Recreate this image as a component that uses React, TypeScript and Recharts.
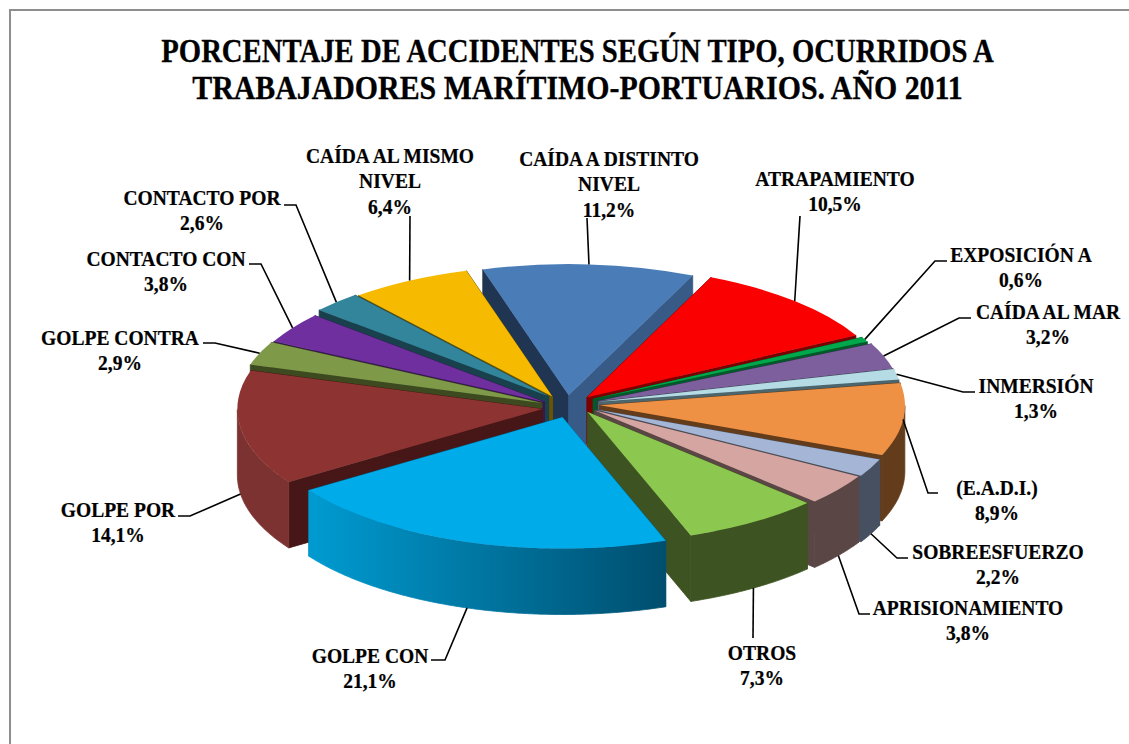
import { PieChart, Pie } from "recharts";

const categories = [
  "ATRAPAMIENTO", "EXPOSICIÓN A", "CAÍDA AL MAR", "INMERSIÓN", "(E.A.D.I.)",
  "SOBREESFUERZO", "APRISIONAMIENTO", "OTROS", "GOLPE CON", "GOLPE POR",
  "GOLPE CONTRA", "CONTACTO CON", "CONTACTO POR", "CAÍDA AL MISMO NIVEL", "CAÍDA A DISTINTO NIVEL",
];
const values = [10.5, 0.6, 3.2, 1.3, 8.9, 2.2, 3.8, 7.3, 21.1, 14.1, 2.9, 3.8, 2.6, 6.4, 11.2];

const topColors = [
  "#fa0000", "#00a84c", "#7d5f9e", "#b5dbe4", "#ef9144", "#a4b5d5", "#d5a5a2", "#8cc84f",
  "#00abe9", "#8d3432", "#7e9a49", "#6f2f9f", "#32859b", "#f6bb00", "#4a7db8",
];
const cutColors = [
  "#7d0000", "#005a2a", "#3f2f50", "#4c666e", "#633c1c", "#475060", "#5a4645", "#3d5321",
  "#005f86", "#471717", "#3d4a20", "#38184f", "#18414d", "#6b5500", "#1f3552",
];
const endCutColors = { "CAÍDA A DISTINTO NIVEL": "#375a86" } as Record<string, string>;
const wallColors = [
  ["#7d0000", "#7d0000"], ["#005a2a", "#005a2a"], ["#3f2f50", "#3f2f50"], ["#4c666e", "#4c666e"],
  ["#633c1c", "#633c1c"], ["#475060", "#475060"], ["#5a4645", "#5a4645"], ["#3d5321", "#3d5321"],
  ["#009bd1", "#004e6e"], ["#7c3230", "#7c3230"], ["#3d4a20", "#3d4a20"], ["#38184f", "#38184f"],
  ["#18414d", "#18414d"], ["#6b5500", "#6b5500"], ["#375a86", "#375a86"],
];

// label text placement: centre x, first baseline, leader start and elbow
const labelSpots: Record<string, { x: number; y: number; from?: number; elbow?: number; ly?: number }> = {
  "ATRAPAMIENTO": { x: 835, y: 186, elbow: 800, ly: 216 },
  "EXPOSICIÓN A": { x: 1021, y: 262, from: 947, elbow: 935, ly: 261 },
  "CAÍDA AL MAR": { x: 1048, y: 319, from: 971, elbow: 959, ly: 318 },
  "INMERSIÓN": { x: 1036, y: 393, from: 975, elbow: 963, ly: 392 },
  "(E.A.D.I.)": { x: 997, y: 495, from: 938, elbow: 928, ly: 493 },
  "SOBREESFUERZO": { x: 998, y: 559, from: 908, elbow: 897, ly: 558 },
  "APRISIONAMIENTO": { x: 968, y: 615, from: 870, elbow: 859, ly: 614 },
  "OTROS": { x: 762, y: 660, elbow: 753, ly: 638 },
  "GOLPE CON": { x: 370, y: 663, from: 431, elbow: 445, ly: 660 },
  "GOLPE POR": { x: 118, y: 517, from: 178, elbow: 190, ly: 516 },
  "GOLPE CONTRA": { x: 120, y: 345, from: 203, elbow: 215, ly: 343 },
  "CONTACTO CON": { x: 166, y: 266, from: 249, elbow: 261, ly: 264 },
  "CONTACTO POR": { x: 202, y: 205, from: 284, elbow: 296, ly: 205 },
  "CAÍDA AL MISMO NIVEL": { x: 390, y: 163, elbow: 410, ly: 216 },
  "CAÍDA A DISTINTO NIVEL": { x: 609, y: 166, elbow: 587, ly: 218 },
};
const labelLines: Record<string, string[]> = {
  "CAÍDA AL MISMO NIVEL": ["CAÍDA AL MISMO", "NIVEL"],
  "CAÍDA A DISTINTO NIVEL": ["CAÍDA A DISTINTO", "NIVEL"],
};

const explode: Record<string, number> = { "GOLPE CON": 40, "GOLPE POR": 33 };
// the original has some perspective: back slices sit further left than a flat ellipse gives
const nudges: Record<string, number[]> = {
  "ATRAPAMIENTO": [-7, 1], "EXPOSICIÓN A": [-6, 0], "CAÍDA AL MAR": [-3, 1], "INMERSIÓN": [-3, 0],
  "(E.A.D.I.)": [-2, 0], "SOBREESFUERZO": [-2, 1], "APRISIONAMIENTO": [-2, 0], "OTROS": [-3, -1],
  "GOLPE CON": [-2, -3], "GOLPE POR": [-2, 3], "GOLPE CONTRA": [-12, 3], "CONTACTO CON": [-12, 4],
  "CONTACTO POR": [-11, 0], "CAÍDA AL MISMO NIVEL": [-13, 2], "CAÍDA A DISTINTO NIVEL": [-10, 2],
};
const EXPLODE_DEFAULT = 25;
const SQUASH = 0.43;
const DEPTH = 66;
const START_ANGLE = 66;
const FONT = "'Liberation Serif', serif";

const slices = categories.map((name, i) => ({ name, value: values[i], index: i }));

// back to front, so nearer slices paint over the ones behind them
function midOf(i: number) {
  const total = values.reduce((a, b) => a + b, 0);
  const before = values.slice(0, i).reduce((a, b) => a + b, 0);
  return START_ANGLE - ((before + values[i] / 2) / total) * 360;
}
const paintOrder = categories
  .map((name, i) => ({ name, d: -Math.sin((midOf(i) * Math.PI) / 180) }))
  .sort((a, b) => a.d - b.d)
  .map((s) => s.name);

function project(cx: number, cy: number, r: number, deg: number) {
  const a = (deg * Math.PI) / 180;
  return [cx + r * Math.cos(a), cy - r * SQUASH * Math.sin(a)];
}

function apexOf(cx: number, cy: number, name: string, mid: number) {
  const [x, y] = project(cx, cy, explode[name] ?? EXPLODE_DEFAULT, mid);
  const [nx, ny] = nudges[name] ?? [0, 0];
  return [x + nx, y + ny];
}

function sliceShape(target: string) {
  return function Slice(props: any) {
    const { cx, cy, outerRadius: r, startAngle, endAngle, midAngle } = props;
    const name = props.name ?? props.payload?.name;
    if (name !== target) return null;
    const i = categories.indexOf(name);
    const [ax, ay] = apexOf(cx, cy, name, midAngle);
    const [sx, sy] = project(ax, ay, r, startAngle);
    const [ex, ey] = project(ax, ay, r, endAngle);
    const large = Math.abs(startAngle - endAngle) > 180 ? 1 : 0;
    const top = `M${ax},${ay}L${sx},${sy}A${r},${r * SQUASH} 0 ${large} 1 ${ex},${ey}Z`;
    const cut = (x: number, y: number) =>
      `M${ax},${ay}L${x},${y}L${x},${y + DEPTH}L${ax},${ay + DEPTH}Z`;

    const rim: number[][] = [];
    for (let a = startAngle; a > endAngle; a -= 0.5) {
      if (Math.sin((a * Math.PI) / 180) <= 0) rim.push(project(ax, ay, r, a));
    }
    if (Math.sin((endAngle * Math.PI) / 180) <= 0) rim.push([ex, ey]);
    const wall = rim.length
      ? "M" + rim.map((p) => p.join(",")).join("L") + "L" +
        [...rim].reverse().map((p) => `${p[0]},${p[1] + DEPTH}`).join("L") + "Z"
      : "";
    const gid = `wall-${i}`;
    const endCut = endCutColors[name] ?? cutColors[i];
    return (
      <g>
        <defs>
          <linearGradient id={gid} x1="0" y1="0" x2="1" y2="0">
            <stop offset="0" stopColor={wallColors[i][0]} />
            <stop offset="1" stopColor={wallColors[i][1]} />
          </linearGradient>
        </defs>
        <path d={cut(sx, sy)} fill={cutColors[i]} stroke={cutColors[i]} strokeWidth={0.8} />
        <path d={cut(ex, ey)} fill={endCut} stroke={endCut} strokeWidth={0.8} />
        {wall && <path d={wall} fill={`url(#${gid})`} stroke={`url(#${gid})`} strokeWidth={0.8} />}
        <path d={top} fill={topColors[i]} />
      </g>
    );
  };
}

function renderLabel(props: any) {
  const { cx, cy, outerRadius: r, midAngle } = props;
  const name = props.name ?? props.payload?.name;
  const spot = labelSpots[name];
  const i = categories.indexOf(name);
  const [ax, ay] = apexOf(cx, cy, name, midAngle);
  const [px, py0] = project(ax, ay, r, midAngle);
  const onWall = -Math.sin((midAngle * Math.PI) / 180) > 0.12;
  const py = onWall ? py0 + DEPTH : py0;
  const pts = [
    spot.from != null ? `${spot.from},${spot.ly}` : null,
    `${spot.elbow},${spot.ly}`,
    `${px},${py}`,
  ].filter(Boolean).join(" ");
  const lines = [...(labelLines[name] ?? [name]), values[i].toFixed(1).replace(".", ",") + "%"];
  return (
    <g key={name}>
      <polyline points={pts} fill="none" stroke="#000" strokeWidth={1.6} />
      <text
        transform={`translate(${spot.x},0) scale(0.93,1)`}
        textAnchor="middle"
        fontFamily={FONT}
        fontWeight={700}
        fontSize={21}
        fill="#000"
        stroke="#000"
        strokeWidth={0.25}
      >
        {lines.map((t, k) => (
          <tspan key={k} x={0} y={spot.y + k * 25.5}>{t}</tspan>
        ))}
      </text>
    </g>
  );
}

export default function App() {
  return (
    <div style={{ position: "absolute", left: 0, top: 0, width: 1129, height: 744, overflow: "hidden", background: "#fff" }}>
      <div style={{ position: "absolute", left: 9, top: 9, width: 1300, height: 900, border: "2px solid #8e8e8e" }} />
      <div style={{ position: "absolute", left: 0, top: 33, width: 1155, textAlign: "center", fontFamily: FONT, fontWeight: 700, fontSize: 33, lineHeight: "37px", color: "#000", WebkitTextStroke: "0.3px #000" }}>
        <div style={{ transform: "scaleX(0.87)" }}>PORCENTAJE DE ACCIDENTES SEGÚN TIPO, OCURRIDOS A</div>
        <div style={{ transform: "scaleX(0.905)" }}>TRABAJADORES MARÍTIMO-PORTUARIOS. AÑO 2011</div>
      </div>
      <div style={{ position: "absolute", left: 0, top: 0 }}>
        <PieChart width={1129} height={744} margin={{ top: 0, right: 0, bottom: 0, left: 0 }}>
          {paintOrder.map((name) => (
            <Pie
              key={name}
              data={slices}
              dataKey="value"
              nameKey="name"
              cx={577}
              cy={404}
              outerRadius={305}
              startAngle={START_ANGLE}
              endAngle={START_ANGLE - 360}
              stroke="none"
              isAnimationActive={false}
              shape={sliceShape(name)}
              rootTabIndex={-1}
            />
          ))}
          <Pie
            data={slices}
            dataKey="value"
            nameKey="name"
            cx={577}
            cy={404}
            outerRadius={305}
            startAngle={START_ANGLE}
            endAngle={START_ANGLE - 360}
            stroke="none"
            isAnimationActive={false}
            shape={() => null}
            label={renderLabel}
            labelLine={false}
            rootTabIndex={-1}
          />
        </PieChart>
      </div>
    </div>
  );
}
